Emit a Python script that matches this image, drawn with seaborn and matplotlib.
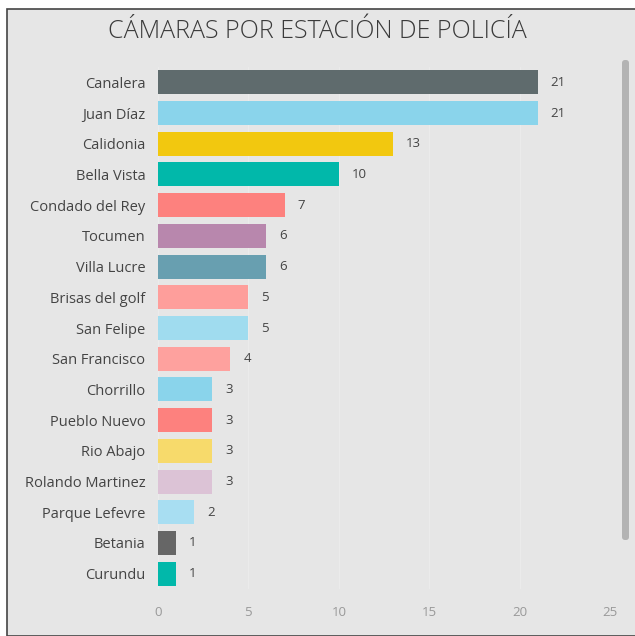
import matplotlib
matplotlib.use('Agg')
import matplotlib.pyplot as plt
import seaborn as sns
import pandas as pd
from matplotlib.patches import Rectangle, FancyBboxPatch

# Données
estaciones = ['Canalera', 'Juan Díaz', 'Calidonia', 'Bella Vista', 'Condado del Rey',
              'Tocumen', 'Villa Lucre', 'Brisas del golf', 'San Felipe', 'San Francisco',
              'Chorrillo', 'Pueblo Nuevo', 'Rio Abajo', 'Rolando Martinez',
              'Parque Lefevre', 'Betania', 'Curundu']
camaras = [21, 21, 13, 10, 7, 6, 6, 5, 5, 4, 3, 3, 3, 3, 2, 1, 1]
colores = ['#5f6b6d', '#8ad4eb', '#f2c80f', '#01b8aa', '#fd817e', '#b887ad', '#689fb0',
           '#fe9e9b', '#a0dcef', '#fea19e', '#8ad4eb', '#fd817e', '#f7da6b', '#dcc3d6',
           '#a8def2', '#666666', '#01b8aa']

df = pd.DataFrame({'Estacion': estaciones, 'Camaras': camaras})

sns.set_style('white')
plt.rcParams['font.family'] = ['Open Sans', 'DejaVu Sans']

fig = plt.figure(figsize=(6.35, 6.36), dpi=100)
fig.patch.set_facecolor('white')

# Panneau gris avec bordure (derrière les axes)
panel = Rectangle((7 / 635, 0), 1, 1 - 9 / 636, transform=fig.transFigure,
                  facecolor='#e6e6e6', edgecolor='#444444', linewidth=1.2, zorder=-2)
fig.patches.append(panel)

# Barre de défilement
scroll = FancyBboxPatch((622 / 635, 1 - 540 / 636), 7 / 635, 480 / 636,
                        boxstyle='round,pad=0,rounding_size=0.005',
                        transform=fig.transFigure, facecolor='#b3b3b3',
                        edgecolor='none', zorder=-1)
fig.patches.append(scroll)

ax = fig.add_axes([158 / 635, 1 - 589 / 636, 452 / 635, 522 / 636])
ax.set_facecolor('none')
ax.set_zorder(1)

sns.barplot(data=df, x='Camaras', y='Estacion', hue='Estacion', palette=colores,
            legend=False, width=0.78, saturation=1, linewidth=0, ax=ax, orient='h')

ax.set_xlim(0, 25)
ax.set_ylim(len(estaciones) - 0.5, -0.5)
ax.set_xticks([0, 5, 10, 15, 20, 25])
ax.xaxis.grid(True, color='#ebebeb', linewidth=1)
ax.set_axisbelow(True)
for s in ax.spines.values():
    s.set_visible(False)
ax.set_xlabel('')
ax.set_ylabel('')
ax.tick_params(axis='y', length=0, pad=9, labelsize=10.5, labelcolor='#444444')
ax.tick_params(axis='x', length=0, pad=12, labelsize=9.5, labelcolor='#999999')

for i, v in enumerate(camaras):
    ax.text(v + 0.72, i, str(v), va='center', ha='left', fontsize=9.5, color='#444444')

fig.text(0.5, 1 - 31 / 636, 'CÁMARAS POR ESTACIÓN DE POLICÍA', ha='center', va='center',
         fontsize=18, color='#3a3a3a', fontweight='light')

fig.savefig('out.png', dpi=100)
